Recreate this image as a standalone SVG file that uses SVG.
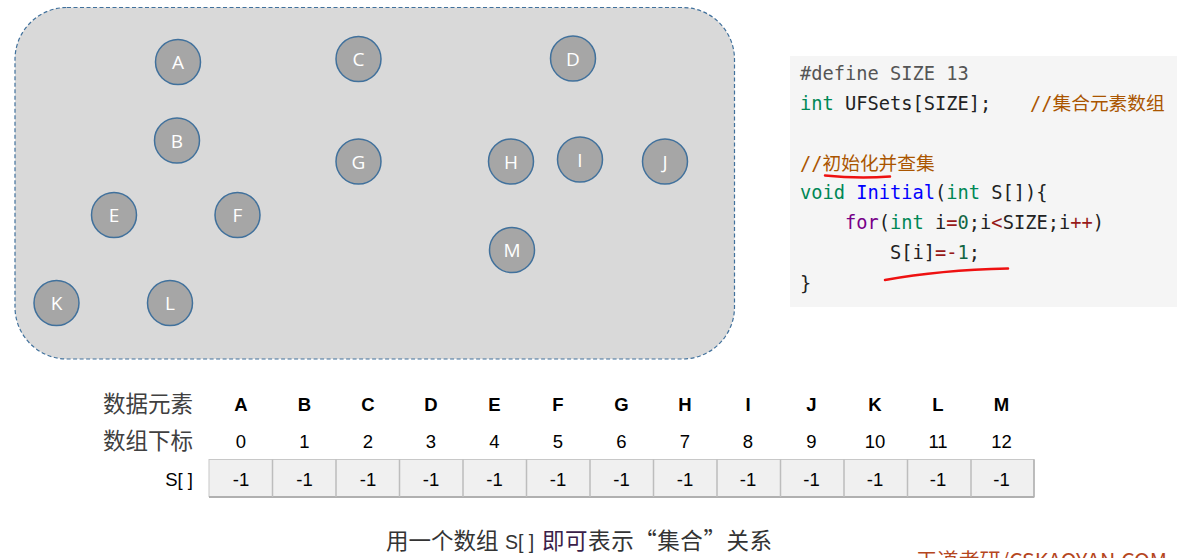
<svg xmlns="http://www.w3.org/2000/svg" width="1200" height="558" viewBox="0 0 1200 558">
<style>
  .node circle { fill: #a6a6a6; stroke: #41719c; stroke-width: 1.5; }
  .node text { fill: #ffffff; font-family: "Open Sans", "Liberation Sans", sans-serif; font-size: 19px; text-anchor: middle; }
  .code { font-family: "DejaVu Sans Mono", "Noto Sans CJK SC", monospace; font-size: 18.7px; fill: #222222; }
  .meta { fill: #555555; }
  .type { fill: #008855; }
  .cmt { fill: #aa5500; }
  .def { fill: #0000ff; }
  .kw { fill: #770088; }
  .op { fill: #981a1a; }
  .num { fill: #116644; }
  .hdr { font-family: "Liberation Sans", Arial, sans-serif; font-size: 18.5px; font-weight: bold; fill: #000000; text-anchor: middle; }
  .idx { font-family: "Liberation Sans", Arial, sans-serif; font-size: 18.5px; fill: #000000; text-anchor: middle; }
  .cell { font-family: "Liberation Sans", Arial, sans-serif; font-size: 18.5px; fill: #000000; text-anchor: middle; }
  .rowlbl { font-family: "Noto Sans CJK SC", sans-serif; font-size: 22.5px; fill: #404040; }
  .mark { fill: none; stroke: #ee1111; stroke-width: 2.5; stroke-linecap: round; }
  .sep { stroke: #bdbdbd; stroke-width: 1.5; }
</style>

<!-- set container -->
<rect x="15" y="7.5" width="719.5" height="351.5" rx="52" ry="52" fill="#d9d9d9" stroke="#41719c" stroke-width="1.2" stroke-dasharray="4 2.5"/>

<g id="connectors"></g>

<g id="node-A" class="node"><circle cx="178" cy="62" r="22.5"/><text x="178" y="69">A</text></g>
<g id="node-B" class="node"><circle cx="177" cy="140.5" r="22.5"/><text x="177" y="147.5">B</text></g>
<g id="node-C" class="node"><circle cx="358.5" cy="59" r="22.5"/><text x="358.5" y="66">C</text></g>
<g id="node-D" class="node"><circle cx="573" cy="58.5" r="22.5"/><text x="573" y="65.5">D</text></g>
<g id="node-E" class="node"><circle cx="114" cy="215" r="22.5"/><text x="114" y="222">E</text></g>
<g id="node-F" class="node"><circle cx="237.5" cy="215" r="22.5"/><text x="237.5" y="222">F</text></g>
<g id="node-G" class="node"><circle cx="358.5" cy="161.5" r="22.5"/><text x="358.5" y="168.5">G</text></g>
<g id="node-H" class="node"><circle cx="511" cy="161.5" r="22.5"/><text x="511" y="168.5">H</text></g>
<g id="node-I" class="node"><circle cx="580" cy="159.5" r="22.5"/><text x="580" y="166.5">I</text></g>
<g id="node-J" class="node"><circle cx="665" cy="161.5" r="22.5"/><text x="665" y="168.5">J</text></g>
<g id="node-M" class="node"><circle cx="512" cy="250" r="22.5"/><text x="512" y="257">M</text></g>
<g id="node-K" class="node"><circle cx="56.5" cy="303" r="22.5"/><text x="56.5" y="310">K</text></g>
<g id="node-L" class="node"><circle cx="170" cy="303" r="22.5"/><text x="170" y="310">L</text></g>

<!-- code block -->
<g id="code">
  <rect x="790" y="56" width="387" height="251" fill="#f5f5f5"/>
  <text class="code" xml:space="preserve" x="800" y="80"><tspan class="meta">#define SIZE 13</tspan></text>
  <text class="code" xml:space="preserve" x="800" y="110"><tspan class="type">int</tspan> UFSets[SIZE];<tspan class="cmt" x="1030">//集合元素数组</tspan></text>
  <text class="code" xml:space="preserve" x="800" y="170"><tspan class="cmt">//初始化并查集</tspan></text>
  <text class="code" xml:space="preserve" x="800" y="199"><tspan class="type">void</tspan> <tspan class="def">Initial</tspan>(<tspan class="type">int</tspan> S[]){</text>
  <text class="code" xml:space="preserve" x="845" y="229"><tspan class="kw">for</tspan>(<tspan class="type">int</tspan> i<tspan class="op">=</tspan><tspan class="num">0</tspan>;i<tspan class="op">&lt;</tspan>SIZE;i<tspan class="op">++</tspan>)</text>
  <text class="code" xml:space="preserve" x="890" y="259">S[i]<tspan class="op">=-</tspan><tspan class="num">1</tspan>;</text>
  <text class="code" xml:space="preserve" x="800" y="290">}</text>
  <path class="mark" d="M825 175.5 Q858 179 890 176.5"/>
  <path class="mark" d="M885 280 Q940 270 1008 268.5"/>
</g>

<!-- table -->
<g id="table">
  <text class="rowlbl" x="103" y="412">数据元素</text>
  <text class="rowlbl" x="103" y="449">数组下标</text>
  <text class="idx" x="193" y="486" style="text-anchor:end">S[ ]</text>

  <text class="hdr" x="241" y="411">A</text>
  <text class="hdr" x="304.5" y="411">B</text>
  <text class="hdr" x="368" y="411">C</text>
  <text class="hdr" x="431" y="411">D</text>
  <text class="hdr" x="494.5" y="411">E</text>
  <text class="hdr" x="558" y="411">F</text>
  <text class="hdr" x="621.5" y="411">G</text>
  <text class="hdr" x="685" y="411">H</text>
  <text class="hdr" x="748" y="411">I</text>
  <text class="hdr" x="811.5" y="411">J</text>
  <text class="hdr" x="875" y="411">K</text>
  <text class="hdr" x="938" y="411">L</text>
  <text class="hdr" x="1001.5" y="411">M</text>

  <text class="idx" x="241" y="448">0</text>
  <text class="idx" x="304.5" y="448">1</text>
  <text class="idx" x="368" y="448">2</text>
  <text class="idx" x="431" y="448">3</text>
  <text class="idx" x="494.5" y="448">4</text>
  <text class="idx" x="558" y="448">5</text>
  <text class="idx" x="621.5" y="448">6</text>
  <text class="idx" x="685" y="448">7</text>
  <text class="idx" x="748" y="448">8</text>
  <text class="idx" x="811.5" y="448">9</text>
  <text class="idx" x="875" y="448">10</text>
  <text class="idx" x="938" y="448">11</text>
  <text class="idx" x="1001.5" y="448">12</text>

  <rect x="209" y="459.5" width="825" height="37" fill="#f0f0f0" stroke="#c8c8c8" stroke-width="1"/>
  <line x1="209" y1="497" x2="1034" y2="497" stroke="#b0b0b0" stroke-width="2"/>
  <line x1="1034" y1="459.5" x2="1034" y2="497.5" stroke="#b0b0b0" stroke-width="1.5"/>
  <line class="sep" x1="272.5" y1="459.5" x2="272.5" y2="497"/>
  <line class="sep" x1="336" y1="459.5" x2="336" y2="497"/>
  <line class="sep" x1="399.5" y1="459.5" x2="399.5" y2="497"/>
  <line class="sep" x1="463" y1="459.5" x2="463" y2="497"/>
  <line class="sep" x1="526.5" y1="459.5" x2="526.5" y2="497"/>
  <line class="sep" x1="590" y1="459.5" x2="590" y2="497"/>
  <line class="sep" x1="653.5" y1="459.5" x2="653.5" y2="497"/>
  <line class="sep" x1="717" y1="459.5" x2="717" y2="497"/>
  <line class="sep" x1="780.5" y1="459.5" x2="780.5" y2="497"/>
  <line class="sep" x1="844" y1="459.5" x2="844" y2="497"/>
  <line class="sep" x1="907.5" y1="459.5" x2="907.5" y2="497"/>
  <line class="sep" x1="971" y1="459.5" x2="971" y2="497"/>

  <text class="cell" x="241" y="486">-1</text>
  <text class="cell" x="304.5" y="486">-1</text>
  <text class="cell" x="368" y="486">-1</text>
  <text class="cell" x="431" y="486">-1</text>
  <text class="cell" x="494.5" y="486">-1</text>
  <text class="cell" x="558" y="486">-1</text>
  <text class="cell" x="621.5" y="486">-1</text>
  <text class="cell" x="685" y="486">-1</text>
  <text class="cell" x="748" y="486">-1</text>
  <text class="cell" x="811.5" y="486">-1</text>
  <text class="cell" x="875" y="486">-1</text>
  <text class="cell" x="938" y="486">-1</text>
  <text class="cell" x="1001.5" y="486">-1</text>
</g>

<g id="caption" font-family="'Noto Sans CJK SC', sans-serif" fill="#333333">
  <text x="386" y="549" font-size="22.5">用一个数组</text>
  <text x="505" y="549" font-size="19.5" font-family="'Liberation Sans', sans-serif">S[ ]</text>
  <text x="542" y="549" font-size="22.5" textLength="230" lengthAdjust="spacing"><tspan fill="#3a2048">即可</tspan>表示“集合”关系</text>
</g>

<text x="916" y="568" font-family="'Noto Sans CJK SC', sans-serif" font-size="20" fill="#b5461e" textLength="251" lengthAdjust="spacingAndGlyphs">王道考研/CSKAOYAN.COM</text>
</svg>
